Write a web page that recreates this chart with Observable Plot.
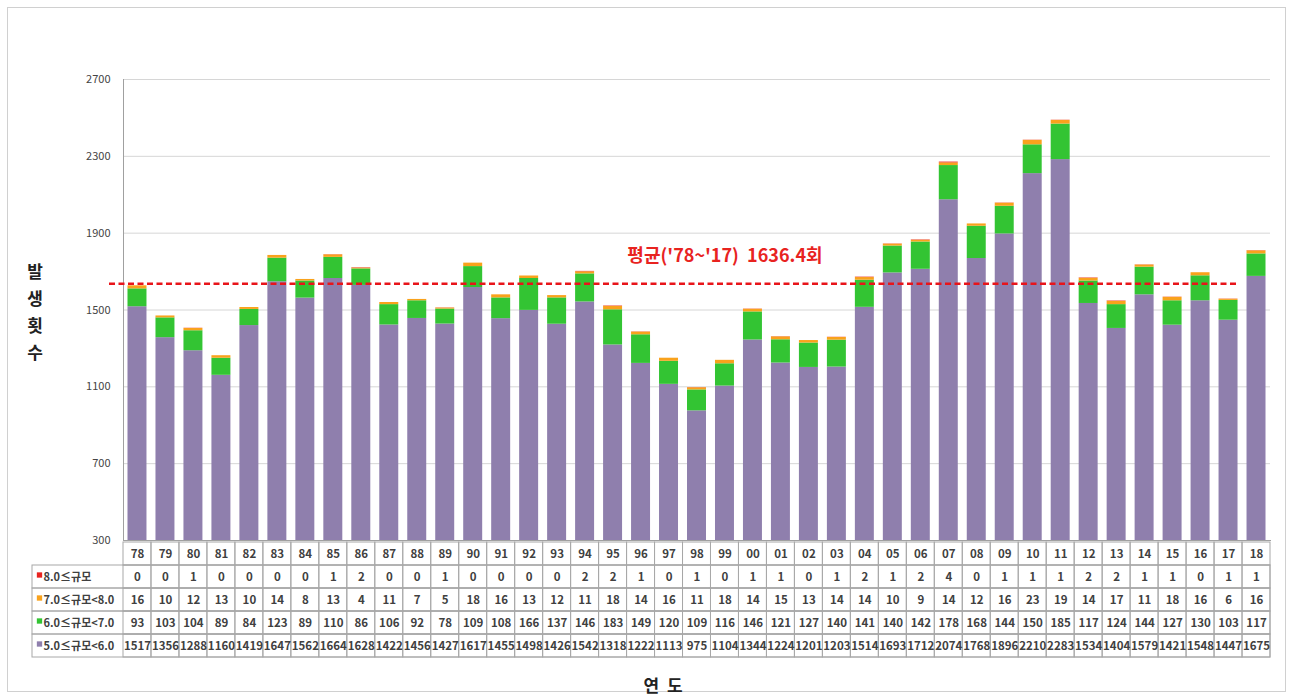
<!DOCTYPE html>
<html><head><meta charset="utf-8">
<script src="https://cdn.jsdelivr.net/npm/d3@7"></script>
<script src="https://cdn.jsdelivr.net/npm/@observablehq/plot@0.6"></script>
<style>
body{margin:0;background:#fff;font-family:"Noto Sans CJK KR","Noto Sans",sans-serif;}
#page{position:relative;width:1293px;height:699px;overflow:hidden;background:#fff;}
#border{position:absolute;left:7px;top:7px;width:1279px;height:685px;border:1px solid #d0d0d0;box-sizing:border-box;}
#chart{position:absolute;left:0;top:0;}
#table{position:absolute;left:0;top:540px;}
#ylabel{position:absolute;left:22px;top:257px;width:26px;text-align:center;font-size:17px;font-weight:bold;line-height:27px;color:#222;}
#xlabel{position:absolute;left:613px;top:673px;width:100px;text-align:center;font-size:17px;font-weight:bold;line-height:24px;color:#222;word-spacing:4px;}
</style></head>
<body>
<div id="page">
  <div id="border"></div>
  <div id="chart"></div>
  <div id="table"></div>
  <div id="ylabel">발<br>생<br>횟<br>수</div>
  <div id="xlabel">연 도</div>
</div>
<script>
// ---- data ----
const years = ["78","79","80","81","82","83","84","85","86","87","88","89","90","91","92","93","94","95","96","97","98","99","00","01","02","03","04","05","06","07","08","09","10","11","12","13","14","15","16","17","18"];
const mag5to6 = [1517,1356,1288,1160,1419,1647,1562,1664,1628,1422,1456,1427,1617,1455,1498,1426,1542,1318,1222,1113,975,1104,1344,1224,1201,1203,1514,1693,1712,2074,1768,1896,2210,2283,1534,1404,1579,1421,1548,1447,1675];
const mag6to7 = [93,103,104,89,84,123,89,110,86,106,92,78,109,108,166,137,146,183,149,120,109,116,146,121,127,140,141,140,142,178,168,144,150,185,117,124,144,127,130,103,117];
const mag7to8 = [16,10,12,13,10,14,8,13,4,11,7,5,18,16,13,12,11,18,14,16,11,18,14,15,13,14,14,10,9,14,12,16,23,19,14,17,11,18,16,6,16];
const mag8up = [0,0,1,0,0,0,0,1,2,0,0,1,0,0,0,0,2,2,1,0,1,0,1,1,0,1,2,1,2,4,0,1,1,1,2,2,1,1,0,1,1];
const seriesLabels = ["5.0≤규모<6.0","6.0≤규모<7.0","7.0≤규모<8.0","8.0≤규모"];
const seriesValues = [mag5to6, mag6to7, mag7to8, mag8up];
const yTicks = [300,700,1100,1500,1900,2300,2700];
const avgValue = 1636.4;
const avgLabel = "평균('78~'17)  1636.4회";
const avgFrom = "78", avgTo = "17", avgLabelAt = "99";

// ---- styles ----
const seriesColors = ["#8f7fad","#33c433","#f9a21c","#e8231f"];
const font = '"Noto Sans CJK KR","Noto Sans",sans-serif';

// ---- build tables ----
const long = [];
seriesLabels.forEach((s, k) => years.forEach((yr, i) => long.push({year: yr, series: s, value: seriesValues[k][i]})));

const chart = Plot.plot({
  width: 1293, height: 548,
  marginLeft: 123, marginRight: 23, marginTop: 79, marginBottom: 8,
  style: {background: "transparent", fontFamily: font, fontSize: "11px", color: "#444"},
  x: {domain: years, padding: 0, axis: null},
  y: {domain: [300, 2700], axis: null},
  color: {domain: seriesLabels, range: seriesColors},
  marks: [
    Plot.gridY(yTicks, {stroke: "#d6d6d6", strokeOpacity: 1}),
    Plot.barY(long, {x: "year", y: "value", fill: "series", order: seriesLabels, insetLeft: 4.5, insetRight: 4.5, clip: true}),
    Plot.frame({anchor: "left", stroke: "#a0a0a0"}),
    Plot.frame({anchor: "bottom", stroke: "#a0a0a0"}),
    Plot.axisY(yTicks, {tickSize: 0, tickPadding: 13, label: null, fontSize: 11, fill: "#444", tickFormat: d => String(d)}),
    Plot.ruleY([{y: avgValue, from: avgFrom, to: avgTo}], {y: "y", x1: "from", x2: "to", stroke: "#e8141a", strokeWidth: 2.4, strokeDasharray: "6,3.5", insetLeft: -14, insetRight: 3}),
    Plot.text([{y: avgValue, x: avgLabelAt, t: avgLabel}], {x: "x", y: "y", text: "t", dy: -28, fill: "#e8231f", fontSize: 18, fontWeight: "bold"})
  ]
});
document.getElementById("chart").append(chart);

// table
const rowKeys = ["year", ...seriesLabels.slice().reverse()];
const labelRows = seriesLabels.slice().reverse().map(s => ({row: s, label: s}));
const cells = [];
years.forEach((yr, i) => {
  cells.push({year: yr, row: "year", text: yr});
  seriesLabels.forEach((s, k) => cells.push({year: yr, row: s, text: String(seriesValues[k][i])}));
});

const table = Plot.plot({
  width: 1293, height: 120,
  marginLeft: 32, marginRight: 23, marginTop: 0, marginBottom: 2,
  style: {background: "transparent", fontFamily: font},
  x: {domain: years, range: [123, 1270], padding: 0, axis: null},
  y: {domain: rowKeys, padding: 0, axis: null},
  color: {domain: seriesLabels, range: seriesColors},
  marks: [
    Plot.cell(labelRows, {y: "row", stroke: "#a8a8a8", fill: "none"}),
    Plot.cell(cells, {x: "year", y: "row", stroke: "#a8a8a8", fill: "none"}),
    Plot.text(cells, {x: "year", y: "row", text: "text", fontSize: 11.5, fontWeight: "bold", fill: "#404040"}),
    Plot.dot(labelRows, {y: "row", frameAnchor: "left", dx: 7, dy: -2, symbol: "square", r: 3, fill: "label"}),
    Plot.text(labelRows, {y: "row", text: "label", frameAnchor: "left", textAnchor: "start", dx: 11, fontSize: 11, fontWeight: "bold", fill: "#404040", letterSpacing: "-0.2px"})
  ]
});
document.getElementById("table").append(table);
</script>
</body></html>
